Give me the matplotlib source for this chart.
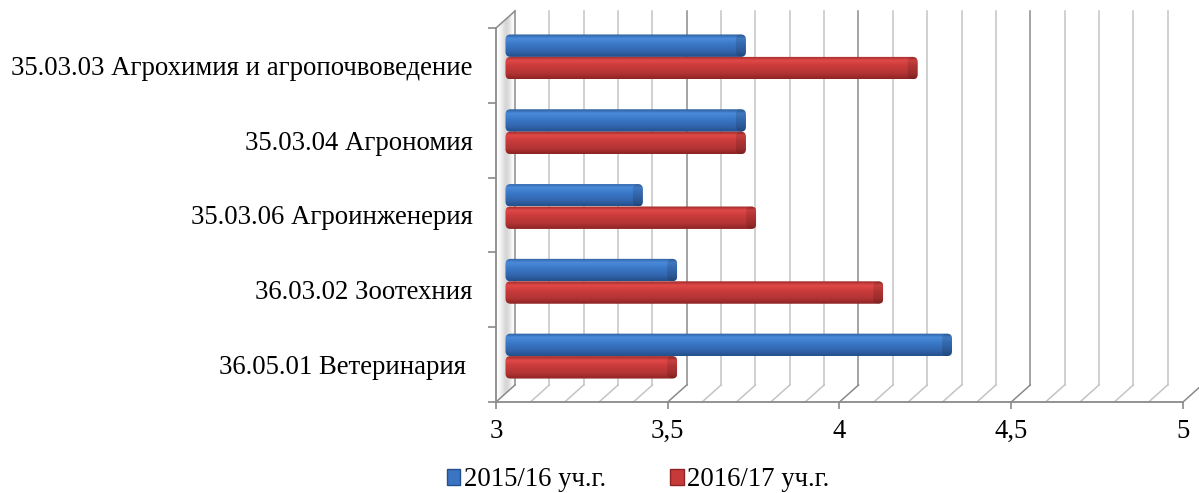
import numpy as np
import matplotlib
matplotlib.use("Agg")
import matplotlib.pyplot as plt
from matplotlib.patches import Polygon, FancyBboxPatch, Patch
from matplotlib.colors import LinearSegmentedColormap

# ---------------- data ----------------
categories = ["35.03.03 Агрохимия и агропочвоведение",
              "35.03.04 Агрономия",
              "35.03.06 Агроинженерия",
              "36.03.02 Зоотехния",
              "36.05.01 Ветеринария "]
series_names = ["2015/16 уч.г.", "2016/17 уч.г."]
values_2015 = [3.7, 3.7, 3.4, 3.5, 4.3]
values_2016 = [4.2, 3.7, 3.73, 4.1, 3.5]
x_ticks = [3, 3.5, 4, 4.5, 5]
x_tick_labels = ["3", "3,5", "4", "4,5", "5"]

# ---------------- style ----------------
FONT = "Liberation Serif"
FS = 19.3
W, H = 1199, 493
fig = plt.figure(figsize=(W / 100, H / 100), dpi=100)

# pixel geometry (front axis & depth offset)
px_x3, px_x5 = 496, 1183
px_floor, px_top_back = 402, 11
depth_dx_px, depth_dy_px = 19, 17
unit_x = (px_x5 - px_x3) / 2.0
unit_y = 74.8
DX = depth_dx_px / unit_x
DY = depth_dy_px / unit_y

xmin, xmax = 3, 5
ymin, ymax = -0.5, 4.5
ax_left_px = px_x3
ax_right_px = px_x5 + depth_dx_px
ax = fig.add_axes([ax_left_px / W, (H - px_floor) / H,
                   (ax_right_px - ax_left_px) / W, (px_floor - px_top_back) / H])
ax.set_xlim(xmin, xmax + DX)
ax.set_ylim(ymin, ymax + DY)
ax.set_facecolor("none")

grid_light = "#c4c4c4"
grid_dark = "#8a8a8a"

# left wall shading
wall = Polygon([(xmin, ymin), (xmin + DX, ymin + DY), (xmin + DX, ymax + DY), (xmin, ymax)],
               closed=True, facecolor="none", edgecolor="none")
ax.add_patch(wall)
wall_grad = np.tile(np.array([1.0, 0.9, 0.7, 0.6, 0.8, 1.0]), (2, 1))
im = ax.imshow(wall_grad, extent=[xmin, xmin + DX, ymin, ymax + DY], aspect="auto",
               cmap="gray", vmin=0, vmax=1, interpolation="bicubic", zorder=0.5, alpha=0.45)
im.set_clip_path(wall)

# back wall grid + floor diagonals
gx = np.round(np.arange(30, 51) / 10.0, 2)
for g in gx:
    major = abs(g * 2 - round(g * 2)) < 1e-9
    c = grid_dark if major else grid_light
    ax.plot([g + DX, g + DX], [ymin + DY, ymax + DY], color=c, lw=1.1, zorder=1, clip_on=False)
    ax.plot([g, g + DX], [ymin, ymin + DY], color=c, lw=1.1, zorder=1, clip_on=False)

# left wall top edge + front vertical axis + front floor line
ax.plot([xmin, xmin + DX], [ymax, ymax + DY], color=grid_dark, lw=1.1, zorder=1, clip_on=False)
ax.plot([xmin, xmin], [ymin, ymax], color=grid_dark, lw=1.3, zorder=5, clip_on=False)
ax.plot([xmin, xmax], [ymin, ymin], color=grid_dark, lw=1.3, zorder=5, clip_on=False)

for s in ax.spines.values():
    s.set_visible(False)

# ticks
ax.set_xticks(x_ticks)
ax.set_xticklabels(x_tick_labels, fontfamily=FONT, fontsize=FS)
ax.tick_params(axis="x", length=5, width=1.2, color=grid_dark, pad=7, direction="out")
ypos = np.arange(len(categories))[::-1]  # first category on top
ax.set_yticks(np.arange(ymin, ymax + 0.01, 1.0))
ax.set_yticklabels([])
ax.tick_params(axis="y", which="major", length=6, width=1.2, color=grid_dark, direction="out")
ax.set_yticks(ypos, minor=True)
ax.set_yticklabels(categories, minor=True, fontfamily=FONT, fontsize=FS)
ax.tick_params(axis="y", which="minor", length=0, pad=17)

# bars
blue_cmap = LinearSegmentedColormap.from_list("b", [(0.0, "#24508c"), (0.25, "#3266ad"),
                                                    (0.6, "#3c7acb"), (0.82, "#4b8ad8"),
                                                    (1.0, "#2c5e9f")])
red_cmap = LinearSegmentedColormap.from_list("r", [(0.0, "#8e2424"), (0.25, "#b33434"),
                                                   (0.6, "#cc3c3c"), (0.82, "#e04a48"),
                                                   (1.0, "#9c2a2a")])
bar_h = 0.3
left = xmin + DX / 2
yshift = DY / 2
series = [(values_2015, blue_cmap, +bar_h / 2),
          (values_2016, red_cmap, -bar_h / 2)]
grad = np.linspace(0, 1, 64).reshape(-1, 1)
rx = 5 / unit_x
ry = 5 / unit_y
for vals, cmap, off in series:
    bars = ax.barh(ypos + yshift + off, np.array(vals) - xmin, left=left, height=bar_h,
                   color="none", edgecolor="none", zorder=2)
    for rect in bars:
        x0, y0 = rect.get_x(), rect.get_y()
        w, h = rect.get_width(), rect.get_height()
        patch = FancyBboxPatch((x0, y0), w, h,
                               boxstyle=f"round,pad=0,rounding_size={rx}",
                               mutation_aspect=ry / rx,
                               facecolor="none", edgecolor="none", zorder=3)
        ax.add_patch(patch)
        img = ax.imshow(grad, extent=[x0, x0 + w, y0, y0 + h], origin="lower",
                        aspect="auto", cmap=cmap, zorder=3, interpolation="bilinear")
        img.set_clip_path(patch)
        cap = FancyBboxPatch((x0 + w - 2 * rx, y0), 2 * rx, h,
                             boxstyle=f"round,pad=0,rounding_size={rx}",
                             mutation_aspect=ry / rx,
                             facecolor="black", alpha=0.12, edgecolor="none", zorder=3.5)
        ax.add_patch(cap)

ax.set_xlim(xmin, xmax + DX)
ax.set_ylim(ymin, ymax + DY)

# legend
handles = [Patch(facecolor="#3a74c2", edgecolor="#24508c", label=series_names[0]),
           Patch(facecolor="#c83a3a", edgecolor="#8e2424", label=series_names[1])]
fig.legend(handles=handles, loc="center", bbox_to_anchor=(638 / W, (H - 480) / H), ncol=2,
           frameon=False, prop={"family": FONT, "size": FS},
           handlelength=0.5, handleheight=0.5, handletextpad=0.12, columnspacing=2.4,
           borderaxespad=0, borderpad=0)

fig.savefig("out.png", dpi=100)
